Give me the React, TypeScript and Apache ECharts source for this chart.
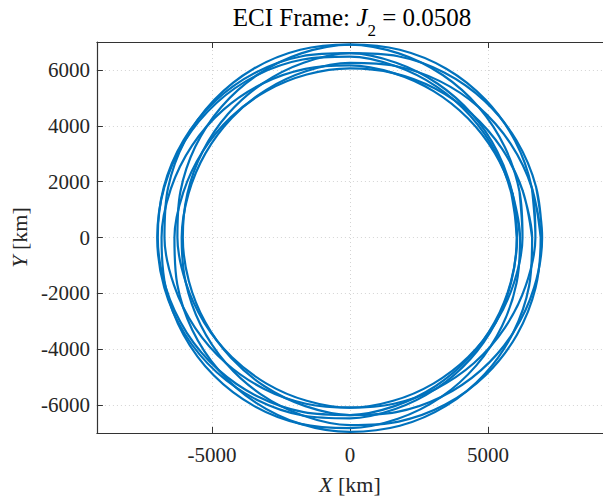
import React, { useEffect, useRef } from 'react';
import * as echarts from 'echarts';

// Orbit samples: radius [km] of each revolution, read at every 15 degrees of polar angle in the ECI frame
// (each revolution runs one sample past 360 deg so the closed loop has no corner where it joins)
const ANGLES = [0, 15, 30, 45, 60, 75, 90, 105, 120, 135, 150, 165, 180, 195, 210, 225, 240, 255, 270, 285, 300, 315, 330, 345, 360, 375];
const LOOP_1 = [6040, 6054, 6095, 6161, 6250, 6357, 6476, 6599, 6718, 6824, 6908, 6961, 6980, 6961, 6908, 6824, 6718, 6599, 6476, 6357, 6250, 6161, 6095, 6054, 6040, 6054];
const LOOP_2 = [6161, 6095, 6054, 6040, 6054, 6095, 6161, 6250, 6357, 6476, 6599, 6718, 6824, 6908, 6961, 6980, 6961, 6908, 6824, 6718, 6599, 6476, 6357, 6250, 6161, 6095];
const LOOP_3 = [6599, 6476, 6357, 6250, 6161, 6095, 6054, 6040, 6054, 6095, 6161, 6250, 6357, 6476, 6599, 6718, 6824, 6908, 6961, 6980, 6961, 6908, 6824, 6718, 6599, 6476];
const LOOP_4 = [6908, 6824, 6718, 6599, 6476, 6357, 6250, 6161, 6095, 6054, 6040, 6054, 6095, 6161, 6250, 6357, 6476, 6599, 6718, 6824, 6908, 6961, 6980, 6961, 6908, 6824];
const LOOP_5 = [6961, 6980, 6961, 6908, 6824, 6718, 6599, 6476, 6357, 6250, 6161, 6095, 6054, 6040, 6054, 6095, 6161, 6250, 6357, 6476, 6599, 6718, 6824, 6908, 6961, 6980];
const LOOP_6 = [6718, 6824, 6908, 6961, 6980, 6961, 6908, 6824, 6718, 6599, 6476, 6357, 6250, 6161, 6095, 6054, 6040, 6054, 6095, 6161, 6250, 6357, 6476, 6599, 6718, 6824];
const LOOP_7 = [6250, 6357, 6476, 6599, 6718, 6824, 6908, 6961, 6980, 6961, 6908, 6824, 6718, 6599, 6476, 6357, 6250, 6161, 6095, 6054, 6040, 6054, 6095, 6161, 6250, 6357];
const LOOP_8 = [6054, 6095, 6161, 6250, 6357, 6476, 6599, 6718, 6824, 6908, 6961, 6980, 6961, 6908, 6824, 6718, 6599, 6476, 6357, 6250, 6161, 6095, 6054, 6040, 6054, 6095];
const LOOPS = [LOOP_1, LOOP_2, LOOP_3, LOOP_4, LOOP_5, LOOP_6, LOOP_7, LOOP_8];

const X_TICKS = [-5000, 0, 5000];
const Y_TICKS = [-6000, -4000, -2000, 0, 2000, 4000, 6000];
const X_MIN = -9166;
const X_MAX = 9166;
const Y_MIN = -7000;
const Y_MAX = 7000;

const TITLE_MAIN = 'ECI Frame: ';
const TITLE_SYMBOL = 'J';
const TITLE_SUB = '2';
const TITLE_VALUE = ' = 0.0508';

// layout
const GRID_LEFT = 96;
const GRID_TOP = 42;
const GRID_W = 512;
const GRID_H = 391;
const FONT = "'Liberation Serif', 'Times New Roman', serif";
const AXIS_COLOR = '#333333';
const TEXT_COLOR = '#262626';

const fmt = (v: number) => String(v);

export default function App() {
  const ref = useRef<HTMLDivElement>(null);

  useEffect(() => {
    if (!ref.current) return;
    const chart = echarts.init(ref.current, undefined, { renderer: 'svg' });
    const tickCommon = { show: true, inside: true, length: 6, lineStyle: { color: AXIS_COLOR, width: 1 } };
    const gridLine = { show: true, lineStyle: { color: '#d4d4d4', width: 1, type: [1, 3] as any } };

    // polar samples (radius, angle) -> ECI X/Y in km
    const toXY = (loop: number[]) =>
      loop.map((r, i) => {
        const a = (ANGLES[i] * Math.PI) / 180;
        return [r * Math.cos(a), r * Math.sin(a)];
      });

    chart.setOption({
      animation: false,
      backgroundColor: '#ffffff',
      grid: { left: GRID_LEFT, top: GRID_TOP, width: GRID_W, height: GRID_H, containLabel: false },
      xAxis: [
        {
          type: 'value', position: 'bottom', min: X_MIN, max: X_MAX,
          axisLine: { show: true, onZero: false, lineStyle: { color: AXIS_COLOR, width: 1.2 } },
          axisTick: { ...tickCommon, customValues: X_TICKS },
          axisLabel: { customValues: X_TICKS, formatter: fmt, fontFamily: FONT, fontSize: 21, color: TEXT_COLOR, margin: 11 },
          splitLine: gridLine,
          name: '{i|X} [km]', nameLocation: 'middle', nameGap: 40,
          nameTextStyle: {
            fontFamily: FONT, fontSize: 22, color: TEXT_COLOR,
            rich: { i: { fontFamily: FONT, fontSize: 22, fontStyle: 'italic', color: TEXT_COLOR } },
          },
        },
        {
          type: 'value', position: 'top', min: X_MIN, max: X_MAX,
          axisLine: { show: true, onZero: false, lineStyle: { color: AXIS_COLOR, width: 1.2 } },
          axisTick: { ...tickCommon, customValues: X_TICKS },
          axisLabel: { show: false },
          splitLine: { show: false },
        },
      ],
      yAxis: [
        {
          type: 'value', position: 'left', min: Y_MIN, max: Y_MAX,
          axisLine: { show: true, onZero: false, lineStyle: { color: AXIS_COLOR, width: 1.2 } },
          axisTick: { ...tickCommon, customValues: Y_TICKS },
          axisLabel: { customValues: Y_TICKS, formatter: fmt, fontFamily: FONT, fontSize: 21, color: TEXT_COLOR, margin: 7 },
          splitLine: gridLine,
          name: '{i|Y} [km]', nameLocation: 'middle', nameGap: 66, nameRotate: 90,
          nameTextStyle: {
            fontFamily: FONT, fontSize: 22, color: TEXT_COLOR,
            rich: { i: { fontFamily: FONT, fontSize: 22, fontStyle: 'italic', color: TEXT_COLOR } },
          },
        },
      ],
      graphic: [
        {
          type: 'text', x: GRID_LEFT + 256, y: 17, z: 100,
          style: {
            text: `{n|${TITLE_MAIN}}{i|${TITLE_SYMBOL}}{s|${TITLE_SUB}}{n|${TITLE_VALUE}}`,
            align: 'center', verticalAlign: 'middle',
            rich: {
              n: { fontFamily: FONT, fontSize: 25, lineHeight: 44, fill: '#000' },
              i: { fontFamily: FONT, fontSize: 25, lineHeight: 44, fontStyle: 'italic', fill: '#000' },
              s: { fontFamily: FONT, fontSize: 17, lineHeight: 16, verticalAlign: 'bottom', fill: '#000' },
            },
          },
        },
      ],
      series: LOOPS.map((loop, k) => ({
        type: 'line',
        name: `rev${k + 1}`,
        xAxisIndex: 0,
        yAxisIndex: 0,
        data: toXY(loop),
        smooth: 0.34,
        symbol: 'none',
        showSymbol: false,
        silent: true,
        clip: false,
        lineStyle: { color: '#0072BD', width: 2.2 },
      })),
    });
    return () => chart.dispose();
  }, []);

  return (
    <div
      ref={ref}
      style={{ position: 'absolute', left: 0, top: 0, width: 603, height: 502, background: '#fff' }}
    />
  );
}
